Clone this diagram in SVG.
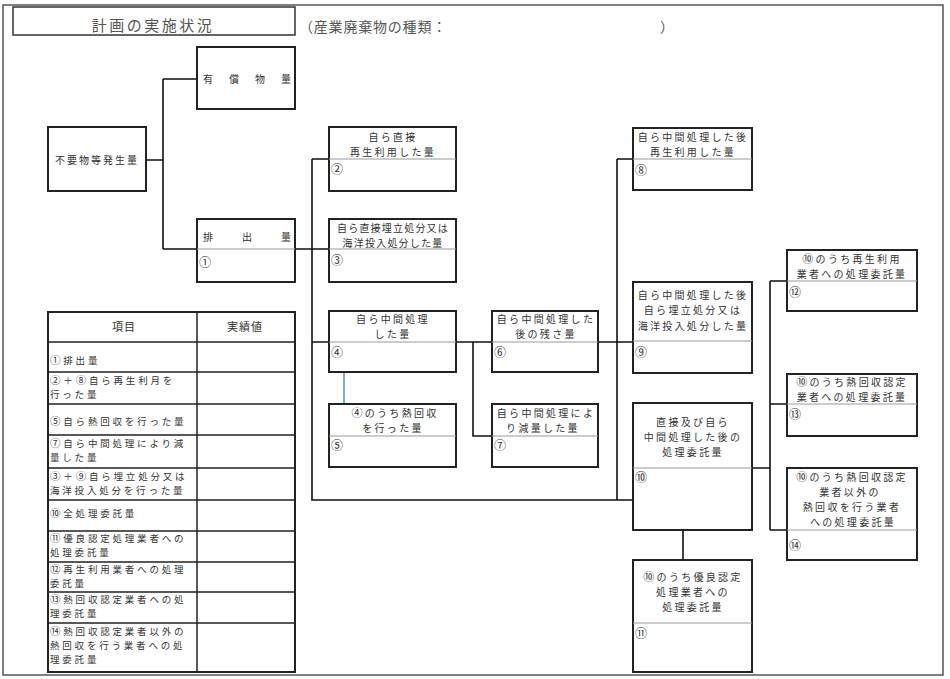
<svg xmlns="http://www.w3.org/2000/svg" width="950" height="679" viewBox="0 0 950 679">
<style>
.bg{fill:#fff}
.frame{fill:none;stroke:#555;stroke-width:1.5}
.box{fill:#fff;stroke:#222;stroke-width:2}
.dv{stroke:#9a9a9a;stroke-width:1}
.conn{stroke:#111;stroke-width:1.6;fill:none}
.blue{stroke:#5b9bd5;stroke-width:1.6;fill:none}
.rl{stroke:#222;stroke-width:1.5}
.t{font-family:"Noto Sans CJK JP","Noto Sans CJK SC",sans-serif;font-size:10px;fill:#333;letter-spacing:2.3px}
.c{text-anchor:middle}
.n{letter-spacing:0;font-size:12px}
.cn{font-size:11px}
.tb{font-size:9.5px;letter-spacing:2.8px}
.tc{font-size:10.5px}
.h{font-family:"Noto Sans CJK JP","Noto Sans CJK SC",sans-serif;fill:#555}
</style>
<rect class="bg" x="0" y="0" width="950" height="679"/>
<rect class="frame" x="3" y="5" width="940" height="670"/>

<g id="title">
<rect x="13" y="7" width="282" height="28" fill="#fff" stroke="#333" stroke-width="1.5"/>
<text class="h" x="153" y="31" font-size="15" letter-spacing="2.5" text-anchor="middle">計画の実施状況</text>
</g>
<g id="kind">
<text class="h" x="299" y="32" font-size="14" letter-spacing="0.8">（産業廃棄物の種類：</text>
<text class="h" x="660" y="32" font-size="14">）</text>
</g>

<g id="connectors">
<path class="conn" d="M146,160H163M163,79V249M163,79H197M163,249H197"/>
<path class="conn" d="M295,249H329M312,159V500H633M312,159H329M312,342H329"/>
<path class="conn" d="M456,342H492M473,342V436H492M598,342H633M617,159V500M617,159H633"/>
<path class="conn" d="M752,468H770M770,281V530M770,281H787M770,404H787M770,530H787M683,530V560"/>
<path class="blue" d="M344,372V404"/>
</g>

<g id="n-yushobutsu">
<rect class="box" x="197" y="47" width="98" height="62"/>
<text class="t" x="203" y="83" style="letter-spacing:16px">有償物量</text>
</g>
<g id="n-fuyobutsu">
<rect class="box" x="48" y="127" width="98" height="64"/>
<text class="t c" x="97" y="164" style="letter-spacing:2px">不要物等発生量</text>
</g>
<g id="n1">
<rect class="box" x="197" y="219" width="98" height="63"/>
<line class="dv" x1="197" y1="249" x2="295" y2="249"/>
<text class="t" x="203" y="241" style="letter-spacing:29px">排出量</text>
<text class="t n" x="199" y="267">①</text>
</g>
<g id="n2">
<rect class="box" x="329" y="127" width="127" height="64"/>
<line class="dv" x1="329" y1="159" x2="456" y2="159"/>
<text class="t c" x="393" y="141">自ら直接</text>
<text class="t c" x="393" y="156">再生利用した量</text>
<text class="t n" x="331" y="174">②</text>
</g>
<g id="n3">
<rect class="box" x="329" y="219" width="127" height="63"/>
<line class="dv" x1="329" y1="249" x2="456" y2="249"/>
<text class="t c" x="393" y="232" style="letter-spacing:1.2px">自ら直接埋立処分又は</text>
<text class="t c" x="393" y="247" style="letter-spacing:1.2px">海洋投入処分した量</text>
<text class="t n" x="331" y="265">③</text>
</g>
<g id="n4">
<rect class="box" x="329" y="311" width="127" height="61"/>
<line class="dv" x1="329" y1="342" x2="456" y2="342"/>
<text class="t c" x="393" y="323">自ら中間処理</text>
<text class="t c" x="393" y="338">した量</text>
<text class="t n" x="331" y="357">④</text>
</g>
<g id="n5">
<rect class="box" x="329" y="404" width="127" height="63"/>
<line class="dv" x1="329" y1="436" x2="456" y2="436"/>
<text class="t c" x="395" y="417"><tspan class="cn">④</tspan>のうち熱回収</text>
<text class="t c" x="393" y="432">を行った量</text>
<text class="t n" x="331" y="450">⑤</text>
</g>
<g id="n6">
<rect class="box" x="492" y="311" width="106" height="61"/>
<line class="dv" x1="492" y1="342" x2="598" y2="342"/>
<text class="t c" x="546" y="323">自ら中間処理した</text>
<text class="t c" x="546" y="338">後の残さ量</text>
<text class="t n" x="494" y="357">⑥</text>
</g>
<g id="n7">
<rect class="box" x="492" y="404" width="106" height="63"/>
<line class="dv" x1="492" y1="436" x2="598" y2="436"/>
<text class="t c" x="546" y="417">自ら中間処理によ</text>
<text class="t c" x="543" y="432">り減量した量</text>
<text class="t n" x="494" y="450">⑦</text>
</g>
<g id="n8">
<rect class="box" x="633" y="128" width="119" height="62"/>
<line class="dv" x1="633" y1="159" x2="752" y2="159"/>
<text class="t c" x="693" y="141">自ら中間処理した後</text>
<text class="t c" x="693" y="156">再生利用した量</text>
<text class="t n" x="635" y="175">⑧</text>
</g>
<g id="n9">
<rect class="box" x="633" y="282" width="119" height="91"/>
<line class="dv" x1="633" y1="341" x2="752" y2="341"/>
<text class="t c" x="693" y="299">自ら中間処理した後</text>
<text class="t c" x="693" y="314">自ら埋立処分又は</text>
<text class="t c" x="693" y="330">海洋投入処分した量</text>
<text class="t n" x="635" y="357">⑨</text>
</g>
<g id="n10">
<rect class="box" x="633" y="403" width="119" height="127"/>
<line class="dv" x1="633" y1="468" x2="752" y2="468"/>
<text class="t c" x="693" y="426">直接及び自ら</text>
<text class="t c" x="693" y="441">中間処理した後の</text>
<text class="t c" x="693" y="456">処理委託量</text>
<text class="t n" x="635" y="482">⑩</text>
</g>
<g id="n11">
<rect class="box" x="633" y="560" width="119" height="112"/>
<line class="dv" x1="633" y1="623" x2="752" y2="623"/>
<text class="t c" x="693" y="581"><tspan class="cn">⑩</tspan>のうち優良認定</text>
<text class="t c" x="693" y="596">処理業者への</text>
<text class="t c" x="693" y="611">処理委託量</text>
<text class="t n" x="635" y="638">⑪</text>
</g>
<g id="n12">
<rect class="box" x="787" y="250" width="130" height="61"/>
<line class="dv" x1="787" y1="281" x2="917" y2="281"/>
<text class="t c" x="852" y="263"><tspan class="cn">⑩</tspan>のうち再生利用</text>
<text class="t c" x="852" y="278">業者への処理委託量</text>
<text class="t n" x="789" y="297">⑫</text>
</g>
<g id="n13">
<rect class="box" x="787" y="374" width="130" height="62"/>
<line class="dv" x1="787" y1="404" x2="917" y2="404"/>
<text class="t c" x="852" y="386"><tspan class="cn">⑩</tspan>のうち熱回収認定</text>
<text class="t c" x="852" y="401">業者への処理委託量</text>
<text class="t n" x="789" y="419">⑬</text>
</g>
<g id="n14">
<rect class="box" x="787" y="468" width="130" height="92"/>
<line class="dv" x1="787" y1="530" x2="917" y2="530"/>
<text class="t c" x="852" y="481"><tspan class="cn">⑩</tspan>のうち熱回収認定</text>
<text class="t c" x="850" y="496">業者以外の</text>
<text class="t c" x="852" y="511">熱回収を行う業者</text>
<text class="t c" x="853" y="526">への処理委託量</text>
<text class="t n" x="789" y="550">⑭</text>
</g>

<g id="table">
<rect class="box" x="48" y="312" width="247" height="360"/>
<path class="rl" d="M197,312V672M48,342H295M48,372H295M48,404H295M48,435H295M48,468H295M48,500H295M48,531H295M48,562H295M48,592H295M48,623H295"/>
<text class="t c" x="124" y="331" style="letter-spacing:1px;font-size:11px">項目</text>
<text class="t c" x="245" y="331" style="letter-spacing:1px;font-size:11px">実績値</text>
<text class="t tb" x="50" y="364"><tspan class="tc">①</tspan>排出量</text>
<text class="t tb" x="50" y="384"><tspan class="tc">②</tspan>＋<tspan class="tc">⑧</tspan>自ら再生利月を</text>
<text class="t tb" x="50" y="398">行った量</text>
<text class="t tb" x="50" y="425"><tspan class="tc">⑤</tspan>自ら熱回収を行った量</text>
<text class="t tb" x="50" y="447"><tspan class="tc">⑦</tspan>自ら中間処理により減</text>
<text class="t tb" x="50" y="461">量した量</text>
<text class="t tb" x="50" y="480"><tspan class="tc">③</tspan>＋<tspan class="tc">⑨</tspan>自ら埋立処分又は</text>
<text class="t tb" x="50" y="494">海洋投入処分を行った量</text>
<text class="t tb" x="50" y="517"><tspan class="tc">⑩</tspan>全処理委託量</text>
<text class="t tb" x="50" y="542"><tspan class="tc">⑪</tspan>優良認定処理業者への</text>
<text class="t tb" x="50" y="556">処理委託量</text>
<text class="t tb" x="50" y="573"><tspan class="tc">⑫</tspan>再生利用業者への処理</text>
<text class="t tb" x="50" y="587">委託量</text>
<text class="t tb" x="50" y="603"><tspan class="tc">⑬</tspan>熱回収認定業者への処</text>
<text class="t tb" x="50" y="617">理委託量</text>
<text class="t tb" x="50" y="635"><tspan class="tc">⑭</tspan>熱回収認定業者以外の</text>
<text class="t tb" x="50" y="649">熱回収を行う業者への処</text>
<text class="t tb" x="50" y="663">理委託量</text>
</g>
</svg>
